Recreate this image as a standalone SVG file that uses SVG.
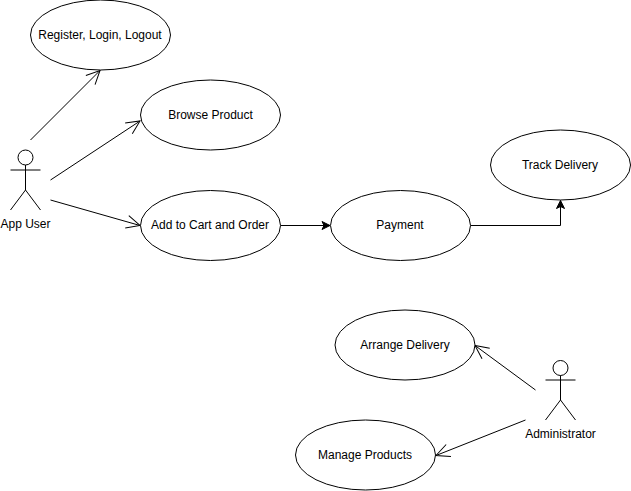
<svg xmlns="http://www.w3.org/2000/svg" width="631" height="491" viewBox="0 0 631 491">
<defs>
<marker id="open" markerUnits="userSpaceOnUse" markerWidth="20" markerHeight="20" refX="15.5" refY="10" orient="auto"><path d="M2 3.5L15.5 10L2 16.500" fill="none" stroke="#000" stroke-width="1"/></marker>
<marker id="block" markerUnits="userSpaceOnUse" markerWidth="14" markerHeight="14" refX="10" refY="7" orient="auto"><path d="M2 3L10 7L2 11L4 7Z" fill="#000" stroke="#000" stroke-width="1"/></marker>
</defs>
<style>
ellipse,circle{fill:#fff;stroke:#000;stroke-width:1}
.a{fill:none;stroke:#000;stroke-width:1}
text{font-family:"Liberation Sans",Arial,sans-serif;font-size:12px;fill:#000;text-anchor:middle}
</style>
<rect width="631" height="491" fill="#fff"/>
<g id="connectors">
<path class="a" marker-end="url(#open)" d="M30.500 140L100 70.500"/>
<path class="a" marker-end="url(#open)" d="M50.500 180L140 121"/>
<path class="a" marker-end="url(#open)" d="M50.500 200L140 225.500"/>
<path class="a" marker-end="url(#block)" d="M280.500 225.500H330"/>
<path class="a" marker-end="url(#block)" d="M470.500 225.500H560.500V200.500"/>
<path class="a" marker-end="url(#open)" d="M535.500 390L475 345.500"/>
<path class="a" marker-end="url(#open)" d="M525.500 420L436 455.500"/>
</g>
<g id="register"><ellipse cx="100.500" cy="35" rx="70" ry="35"/><text x="100" y="39">Register, Login, Logout</text></g>
<g id="browse"><ellipse cx="210.500" cy="115" rx="70" ry="35"/><text x="210.500" y="119">Browse Product</text></g>
<g id="cart"><ellipse cx="210.500" cy="225.500" rx="70" ry="35"/><text x="210" y="229">Add to Cart and Order</text></g>
<g id="payment"><ellipse cx="400.500" cy="225.500" rx="70" ry="35"/><text x="400" y="229">Payment</text></g>
<g id="track"><ellipse cx="560.500" cy="165" rx="70" ry="35"/><text x="560" y="169">Track Delivery</text></g>
<g id="arrange"><ellipse cx="405" cy="345" rx="70" ry="35"/><text x="405" y="349">Arrange Delivery</text></g>
<g id="manage"><ellipse cx="365.500" cy="455" rx="70" ry="35"/><text x="365" y="459">Manage Products</text></g>
<g id="appuser"><circle cx="25.500" cy="157.500" r="7.500"/><path class="a" d="M25.500 165V190M10.500 170H40.500M10.500 210L25.500 190L40.500 210"/><text x="25.500" y="228">App User</text></g>
<g id="administrator"><circle cx="560.500" cy="368" r="7.500"/><path class="a" d="M560.500 375.500V400M545.500 380H575.500M545.500 420L560.500 400L575.500 420"/><text x="560.500" y="438">Administrator</text></g>
</svg>
